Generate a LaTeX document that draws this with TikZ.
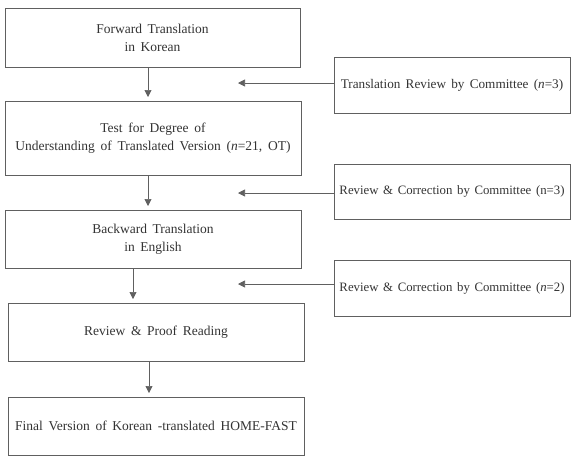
\documentclass[tikz,border=0pt]{standalone}
\usepackage{fontspec}
\setmainfont{Liberation Serif}
\usetikzlibrary{arrows.meta}
\definecolor{linec}{HTML}{606060}
\definecolor{textc}{HTML}{333333}
\newcommand\mywidesp{\spaceskip=0.42em plus 0.1em minus 0.1em\relax}
\newcommand\mysidesp{\spaceskip=0.36em plus 0.1em minus 0.1em\relax}
\begin{document}
\begin{tikzpicture}[x=1pt,y=-1pt,
  box/.style={draw=linec, line width=1pt, anchor=north west, inner sep=0pt, outer sep=0pt,
    align=center, text=textc, font=\fontsize{13.5}{18}\selectfont\mywidesp},
  sidebox/.style={box, minimum width=236pt, font=\fontsize{12.8}{18}\selectfont\mysidesp},
  arr/.style={draw=linec, line width=0.7pt, -{Triangle[width=7pt,length=7pt]}, shorten >=4pt}]
\useasboundingbox (0,0) rectangle (572,456);
\node[box, minimum width=295pt, minimum height=59pt] (b1) at (5,8) {\mywidesp Forward Translation\\\mywidesp in Korean};
\node[box, minimum width=296pt, minimum height=74pt] (b2) at (5,101) {\mywidesp Test for Degree of\\\mywidesp Understanding of Translated Version (\textit{n}=21, OT)};
\node[box, minimum width=296pt, minimum height=58pt] (b3) at (5,210) {\mywidesp Backward Translation\\\mywidesp in English};
\node[box, minimum width=296pt, minimum height=58pt] (b4) at (8,303) {\mywidesp Review \& Proof Reading};
\node[box, minimum width=296pt, minimum height=58pt] (b5) at (8,397) {\mywidesp Final Version of Korean -translated HOME-FAST};
\node[sidebox, minimum height=56pt, font=\fontsize{13.2}{18}\selectfont] (sa) at (334,57) {\spaceskip=0.4em plus 0.1em minus 0.1em\relax Translation Review by Committee (\textit{n}=3)};
\node[sidebox, minimum height=55pt] (sb) at (334,164) {\mysidesp Review \& Correction by Committee (n=3)};
\node[sidebox, minimum height=56pt] (sc) at (334,260) {\mysidesp Review \& Correction by Committee (\textit{n}=2)};
\coordinate (ta) at (238,83);
\coordinate (tb) at (238,193);
\coordinate (tc) at (238,284);
\draw[arr] ([xshift=-4.5pt]b1.south) -- ([xshift=-4.5pt]b1.south |- b2.north);
\draw[arr] ([xshift=-5pt]b2.south) -- ([xshift=-5pt]b2.south |- b3.north);
\draw[arr] ([xshift=-20pt]b3.south) -- ([xshift=-20pt]b3.south |- b4.north);
\draw[arr] ([xshift=-7pt]b4.south) -- ([xshift=-7pt]b4.south |- b5.north);
\draw[arr, shorten >=0pt] (sa.west |- ta) -- (ta);
\draw[arr, shorten >=0pt] (sb.west |- tb) -- (tb);
\draw[arr, shorten >=0pt] (sc.west |- tc) -- (tc);
\end{tikzpicture}
\end{document}
